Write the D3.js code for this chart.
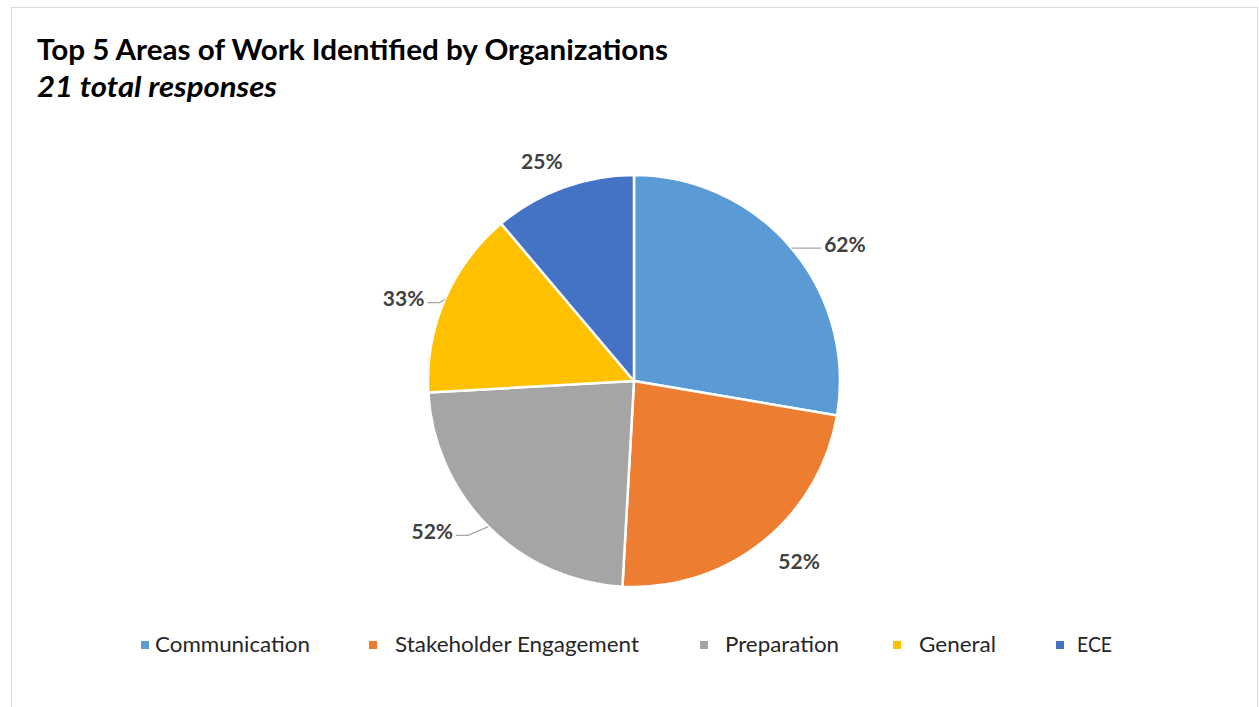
<!DOCTYPE html>
<html>
<head>
<meta charset="utf-8">
<script src="https://cdn.jsdelivr.net/npm/d3@7"></script>
<style>
  html, body { margin: 0; padding: 0; background: #ffffff; }
  svg { display: block; }
  text { font-family: Lato, Carlito, "Liberation Sans", sans-serif; }
</style>
</head>
<body>
<svg id="chart" width="1259" height="707"></svg>
<script>
// Areas of work and the share of organizations naming each one (%)
const categories = ["Communication", "Stakeholder Engagement", "Preparation", "General", "ECE"];
const values = [62, 52, 52, 33, 25];
const colors = ["#5B9BD5", "#ED7D31", "#A5A5A5", "#FFC000", "#4472C4"];
const title = "Top 5 Areas of Work Identified by Organizations";
const subtitle = "21 total responses";

const W = 1259, H = 707;
const svg = d3.select("#chart");

// chart frame
svg.append("rect")
  .attr("x", 11.5).attr("y", 7.5)
  .attr("width", 1246).attr("height", 710)
  .attr("fill", "#ffffff")
  .attr("stroke", "#d9d9d9").attr("stroke-width", 1);

// titles
svg.append("text")
  .attr("x", 37).attr("y", 60)
  .attr("font-size", 28).attr("font-weight", 700).attr("fill", "#000000")
  .attr("textLength", 631).attr("lengthAdjust", "spacingAndGlyphs")
  .text(title);
svg.append("text")
  .attr("x", 37).attr("y", 97)
  .attr("font-size", 28).attr("font-weight", 700).attr("font-style", "italic").attr("fill", "#000000")
  .attr("textLength", 240).attr("lengthAdjust", "spacingAndGlyphs")
  .text(subtitle);

// pie
const cx = 634, cy = 381, R = 206;
const pie = d3.pie().sort(null).value(d => d.v);
const data = categories.map((c, i) => ({ c, v: values[i], col: colors[i] }));
const arcs = pie(data);
const arc = d3.arc().innerRadius(0).outerRadius(R);

const g = svg.append("g").attr("transform", `translate(${cx},${cy})`);
g.selectAll("path.slice")
  .data(arcs)
  .join("path")
  .attr("class", "slice")
  .attr("d", arc)
  .attr("fill", d => d.data.col)
  .attr("stroke", "#ffffff")
  .attr("stroke-width", 2.5)
  .attr("stroke-linejoin", "round");

// data label placement: angular nudge (deg), distance from centre, leader line flag
const labelLayout = [
  { da: 7, r: 252, leader: true },
  { da: -4, r: 244, leader: false },
  { da: 8.5, r: 251, leader: true },
  { da: -3.4, r: 245, leader: true },
  { da: -2.6, r: 239, leader: false }
];

const fmt = v => v + "%";
arcs.forEach((a, i) => {
  const L = labelLayout[i];
  const mid = (a.startAngle + a.endAngle) / 2;
  const ang = mid + L.da * Math.PI / 180;
  const lx = L.r * Math.sin(ang), ly = -L.r * Math.cos(ang);
  const t = g.append("text")
    .attr("x", lx).attr("y", ly)
    .attr("text-anchor", "middle")
    .attr("dominant-baseline", "central")
    .attr("font-size", 21).attr("font-weight", 700).attr("fill", "#404040")
    .text(fmt(values[i]));
  if (L.leader) {
    const bb = t.node().getBBox();
    const ex = R * Math.sin(mid), ey = -R * Math.cos(mid);
    const right = lx > 0;
    const endX = right ? bb.x - 3 : bb.x + bb.width + 3;
    const yLine = ly + 5;
    const elbowX = endX + (right ? -12 : 12);
    g.append("polyline")
      .attr("points", [[ex, ey], [elbowX, yLine], [endX, yLine]].map(p => p.join(",")).join(" "))
      .attr("fill", "none")
      .attr("stroke", "#a6a6a6")
      .attr("stroke-width", 1.3);
  }
});

// legend
const legendX = [141, 369, 700, 893, 1056];
const legendTextX = [155, 395, 725, 919, 1077];
const legendW = [155, 244, 114, 77, 35];
const legend = svg.append("g");
categories.forEach((c, i) => {
  legend.append("rect")
    .attr("x", legendX[i]).attr("y", 641)
    .attr("width", 8).attr("height", 8)
    .attr("fill", colors[i]);
  legend.append("text")
    .attr("x", legendTextX[i]).attr("y", 652)
    .attr("font-size", 21).attr("fill", "#262626")
    .attr("textLength", legendW[i]).attr("lengthAdjust", "spacingAndGlyphs")
    .text(c);
});
</script>
</body>
</html>
